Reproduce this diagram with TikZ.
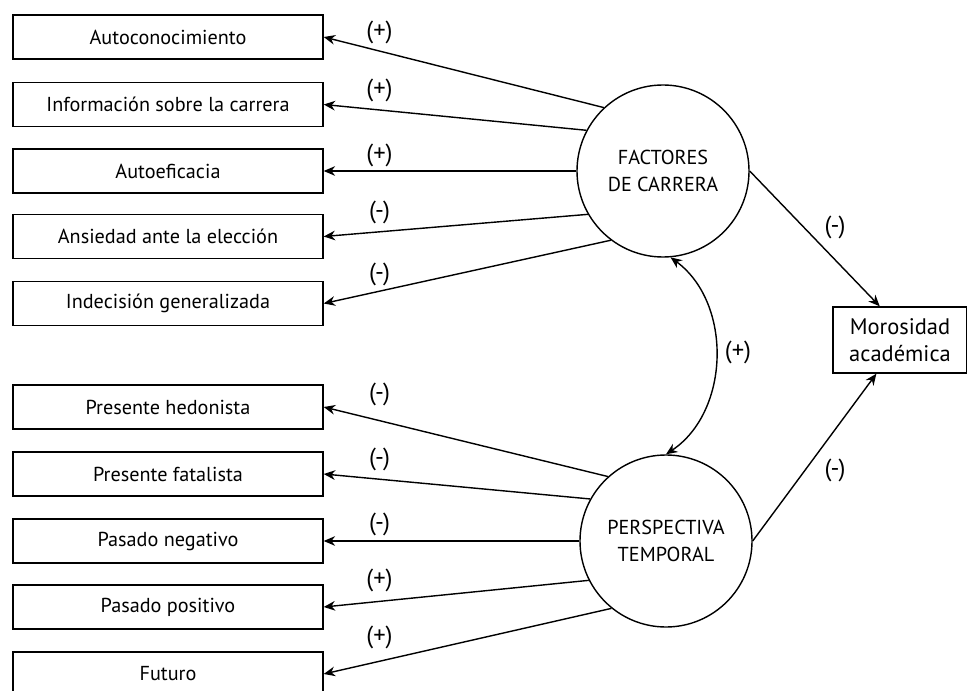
\documentclass[tikz,border=0pt]{standalone}
\usepackage{fontspec}
\setmainfont{PT Sans}
\usepackage{tikz}
\usetikzlibrary{arrows.meta}

\tikzset{
  factor/.style={draw=black, line width=0.8pt, minimum width=6.2cm, minimum height=0.88cm, inner sep=0pt},
  latent/.style={draw=black, line width=0.8pt, circle, minimum size=3.44cm, inner sep=0pt, align=center},
  outcome/.style={draw=black, line width=0.8pt, minimum width=2.68cm, minimum height=1.32cm, inner sep=0pt, align=center, font=\fontsize{12.8}{15.5}\selectfont},
  path/.style={draw=black, line width=0.8pt, -{Stealth[length=6.5pt,width=5.5pt]}},
  sign/.style={inner sep=0pt, font=\fontsize{14}{16}\selectfont}
}

\begin{document}
\begin{tikzpicture}[scale=0.2]
\tikzstyle{every node}+=[font=\fontsize{11.5}{15}\selectfont]
\useasboundingbox (0,0) rectangle (96.7,-69.1);
% latent variables
\node [latent] (fac) at (66.3,-17.1) {FACTORES\\DE CARRERA};
\node [latent] (per) at (66.6,-54.1) {PERSPECTIVA\\TEMPORAL};
\node [outcome] (moro) at (90.0,-34.0) {Morosidad\\académica};
% career factors
\node [factor] (auto) at (16.8,-3.7) {Autoconocimiento};
\node [factor] (info) at (16.8,-10.45) {Información sobre la carrera};
\node [factor] (efic) at (16.8,-17.1) {Autoeficacia};
\node [factor] (ansi) at (16.8,-23.65) {Ansiedad ante la elección};
\node [factor] (indec) at (16.8,-30.35) {Indecisión generalizada};
% time perspective
\node [factor] (hedon) at (16.8,-40.7) {Presente hedonista};
\node [factor] (fatal) at (16.8,-47.4) {Presente fatalista};
\node [factor] (negat) at (16.8,-54.1) {Pasado negativo};
\node [factor] (posit) at (16.8,-60.7) {Pasado positivo};
\node [factor] (futur) at (16.8,-67.4) {Futuro};
% paths
\draw [path] (fac.133) -- (auto.east);
\node [sign] (s1) at (37.95,-3.2) {(+)};
\draw [path] (fac.152) -- (info.east);
\node [sign] (s2) at (37.95,-9.0) {(+)};
\draw [path] (fac.180) -- (efic.east);
\node [sign] (s3) at (37.95,-15.5) {(+)};
\draw [path] (fac.210) -- (ansi.east);
\node [sign] (s4) at (37.95,-21.2) {(-)};
\draw [path] (fac.233) -- (indec.east);
\node [sign] (s5) at (37.95,-27.4) {(-)};
\draw [path] (per.132) -- (hedon.east);
\node [sign] (s6) at (37.95,-39.4) {(-)};
\draw [path] (per.151) -- (fatal.east);
\node [sign] (s7) at (37.95,-45.9) {(-)};
\draw [path] (per.180) -- (negat.east);
\node [sign] (s8) at (37.95,-52.4) {(-)};
\draw [path] (per.207) -- (posit.east);
\node [sign] (s9) at (37.95,-58.0) {(+)};
\draw [path] (per.231.5) -- (futur.east);
\node [sign] (s10) at (37.95,-63.7) {(+)};
\draw [path] (fac.east) -- (moro.121);
\node [sign] (s11) at (83.5,-22.7) {(-)};
\draw [path] (per.east) -- (moro.235);
\node [sign] (s12) at (83.5,-47.0) {(-)};
\draw [path, {Stealth[length=6.5pt,width=5.5pt]}-{Stealth[length=6.5pt,width=5.5pt]}] (fac.-85) to [bend left=55] (per.north);
\node [sign] (s13) at (73.8,-35.2) {(+)};
\end{tikzpicture}
\end{document}
